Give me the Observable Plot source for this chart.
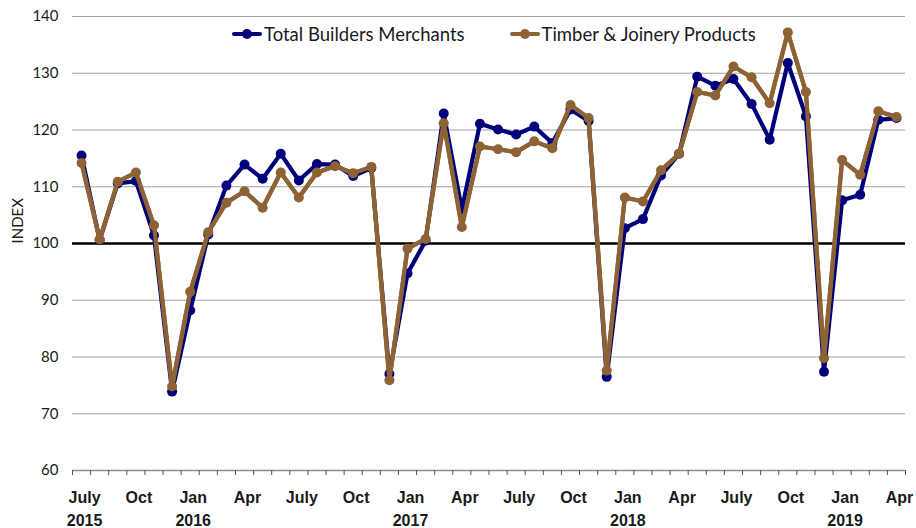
<!DOCTYPE html>
<html>
<head>
<meta charset="utf-8">
<script src="https://cdn.jsdelivr.net/npm/d3@7"></script>
<script src="https://cdn.jsdelivr.net/npm/@observablehq/plot@0.6"></script>
<style>
  html, body { margin: 0; padding: 0; background: #fff; }
  #wrap { position: relative; width: 916px; height: 528px; }
  #legend { position: absolute; top: 23px; left: 232px; display: flex; gap: 0; font-family: Lato, "Open Sans", sans-serif; font-size: 18.5px; color: #1a1a1a; white-space: nowrap; }
  .item { display: flex; align-items: center; margin-right: 45px; }
  .sw { position: relative; width: 30px; height: 22px; margin-right: 2px; }
  .sw .ln { position: absolute; left: 0; right: 0; top: 9px; height: 4px; border-radius: 2px; }
  .sw .pt { position: absolute; left: 10px; top: 6px; width: 10px; height: 10px; border-radius: 50%; }
</style>
</head>
<body>
<div id="wrap"><div id="legend"></div></div>
<script>
const months = ["Jul 2015","Aug 2015","Sep 2015","Oct 2015","Nov 2015","Dec 2015",
  "Jan 2016","Feb 2016","Mar 2016","Apr 2016","May 2016","Jun 2016","Jul 2016","Aug 2016","Sep 2016","Oct 2016","Nov 2016","Dec 2016",
  "Jan 2017","Feb 2017","Mar 2017","Apr 2017","May 2017","Jun 2017","Jul 2017","Aug 2017","Sep 2017","Oct 2017","Nov 2017","Dec 2017",
  "Jan 2018","Feb 2018","Mar 2018","Apr 2018","May 2018","Jun 2018","Jul 2018","Aug 2018","Sep 2018","Oct 2018","Nov 2018","Dec 2018",
  "Jan 2019","Feb 2019","Mar 2019","Apr 2019"];

const seriesNames = ["Total Builders Merchants", "Timber & Joinery Products"];
const seriesColors = ["#00007a", "#8d6336"];

const totalBuilders = [115.5, 100.6, 110.6, 111.0, 101.4, 73.9, 88.2, 101.6, 110.2, 113.9, 111.4, 115.8,
  111.1, 114.0, 113.9, 111.9, 113.3, 77.0, 94.7, 100.5, 122.9, 106.0, 121.1, 120.1,
  119.2, 120.6, 117.7, 123.6, 121.6, 76.5, 102.7, 104.3, 112.0, 115.8, 129.4, 127.8,
  129.0, 124.6, 118.3, 131.8, 122.4, 77.4, 107.6, 108.6, 121.8, 122.1];

const timberJoinery = [114.2, 100.7, 110.9, 112.5, 103.2, 74.8, 91.5, 102.0, 107.2, 109.2, 106.3, 112.5,
  108.1, 112.5, 113.6, 112.4, 113.5, 75.9, 99.1, 100.8, 121.2, 102.9, 117.1, 116.6,
  116.1, 118.0, 116.8, 124.4, 122.1, 77.6, 108.1, 107.4, 112.9, 115.8, 126.7, 126.1,
  131.2, 129.3, 124.7, 137.2, 126.7, 79.8, 114.7, 112.1, 123.3, 122.3];

const tickMonths = ["Jul 2015","Oct 2015","Jan 2016","Apr 2016","Jul 2016","Oct 2016","Jan 2017","Apr 2017",
  "Jul 2017","Oct 2017","Jan 2018","Apr 2018","Jul 2018","Oct 2018","Jan 2019","Apr 2019"];
const tickLabels = ["July\n2015","Oct","Jan\n2016","Apr","July","Oct","Jan\n2017","Apr",
  "July","Oct","Jan\n2018","Apr","July","Oct","Jan\n2019","Apr"];

const yTicks = [60, 70, 80, 90, 100, 110, 120, 130, 140];
const yTitle = "INDEX";
const baseline = 100;

const rows = [];
[totalBuilders, timberJoinery].forEach((vals, s) => {
  vals.forEach((v, i) => rows.push({i, month: months[i], series: seriesNames[s], value: v}));
});
const tickIdx = tickMonths.map(m => months.indexOf(m));
const labelOf = new Map(tickIdx.map((t, k) => [t, tickLabels[k]]));
const bounds = d3.range(months.length + 1).map(k => k - 0.5);

const chart = Plot.plot({
  width: 916,
  height: 528,
  marginLeft: 72,
  marginRight: 11,
  marginTop: 16,
  marginBottom: 58,
  style: {fontFamily: "Lato, 'Open Sans', sans-serif", fontSize: "15px", color: "#1a1a1a", background: "transparent"},
  x: {type: "linear", domain: [-0.5, months.length - 0.5], label: null},
  y: {domain: [60, 140], label: null},
  color: {domain: seriesNames, range: seriesColors},
  marks: [
    Plot.ruleY(yTicks.filter(t => t !== baseline && t !== 60), {stroke: "#a3a3a3", strokeWidth: 1.2}),
    Plot.ruleY([60], {stroke: "#8c8c8c", strokeWidth: 1.5}),
    Plot.axisX(bounds, {tickSize: 5, tickFormat: () => "", stroke: "#555", strokeWidth: 1, label: null}),
    Plot.axisX(tickIdx, {tickSize: 0, tickPadding: 17, tickFormat: d => labelOf.get(d), dx: 3,
      fontWeight: "bold", fontSize: 16, lineHeight: 1.4, fontFamily: "'Liberation Sans Narrow', 'Liberation Sans', sans-serif", label: null}),
    Plot.axisY(yTicks, {tickSize: 0, tickPadding: 14, label: null, fontSize: 15}),
    Plot.text([yTitle], {frameAnchor: "left", rotate: -90, dx: -54, fontSize: 15, fill: "#1a1a1a"}),
    Plot.ruleY([baseline], {stroke: "#000", strokeWidth: 2.6}),
    Plot.line(rows, {x: "i", y: "value", z: "series", stroke: "series", strokeWidth: 4.2, strokeLinejoin: "round", strokeLinecap: "round"}),
    Plot.dot(rows.filter(d => d.series === seriesNames[0]), {x: "i", y: "value", fill: "series", r: 5}),
    Plot.line(rows.filter(d => d.series === seriesNames[1]), {x: "i", y: "value", stroke: "series", strokeWidth: 4.2, strokeLinejoin: "round", strokeLinecap: "round"}),
    Plot.dot(rows.filter(d => d.series === seriesNames[1]), {x: "i", y: "value", fill: "series", r: 5})
  ]
});
const wrap = document.getElementById("wrap");
wrap.insertBefore(chart, wrap.firstChild);

const legend = document.getElementById("legend");
seriesNames.forEach((name, s) => {
  const item = document.createElement("div");
  item.className = "item";
  item.innerHTML = `<span class="sw"><span class="ln" style="background:${seriesColors[s]}"></span><span class="pt" style="background:${seriesColors[s]}"></span></span><span>${name.replace("&", "&amp;")}</span>`;
  legend.appendChild(item);
});
</script>
</body>
</html>
